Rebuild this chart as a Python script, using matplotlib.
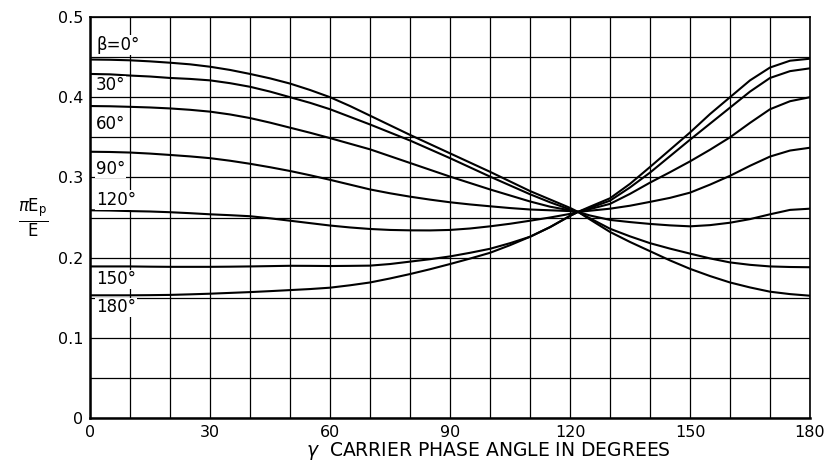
import numpy as np
import matplotlib
matplotlib.use('Agg')
import matplotlib.pyplot as plt

# carrier phase angle gamma (degrees); curves all meet near 122 deg
gamma = list(range(0, 121, 5)) + [122] + list(range(125, 181, 5))

# pi*Ep/E, one list per beta
b0 = [0.447, 0.4467, 0.446, 0.4447, 0.443, 0.441, 0.438, 0.434, 0.429, 0.4235,
      0.417, 0.409, 0.400, 0.389, 0.377, 0.365, 0.353, 0.3415, 0.330, 0.3185,
      0.307, 0.295, 0.283, 0.2725, 0.262,
      0.257,
      0.2635, 0.274, 0.292, 0.313, 0.3345, 0.356, 0.379, 0.400, 0.421, 0.437,
      0.4455, 0.448]
b30 = [0.429, 0.4285, 0.427, 0.4258, 0.424, 0.4228, 0.421, 0.4175, 0.413, 0.407,
       0.400, 0.393, 0.385, 0.3755, 0.366, 0.356, 0.346, 0.335, 0.324, 0.3125,
       0.301, 0.290, 0.279, 0.269, 0.260,
       0.257,
       0.262, 0.271, 0.2875, 0.306, 0.3265, 0.347, 0.367, 0.387, 0.407, 0.424,
       0.4325, 0.436]
b60 = [0.389, 0.3887, 0.388, 0.3872, 0.386, 0.3843, 0.382, 0.3785, 0.374, 0.3683,
       0.362, 0.3557, 0.349, 0.342, 0.335, 0.3265, 0.318, 0.3095, 0.301, 0.293,
       0.285, 0.2775, 0.270, 0.2635, 0.259,
       0.257,
       0.2605, 0.267, 0.2795, 0.2935, 0.3065, 0.320, 0.3345, 0.350, 0.368, 0.385,
       0.395, 0.400]
b90 = [0.332, 0.3317, 0.331, 0.3297, 0.328, 0.3262, 0.324, 0.3208, 0.317, 0.3127,
       0.308, 0.3027, 0.297, 0.291, 0.285, 0.2802, 0.276, 0.2723, 0.269, 0.2663,
       0.264, 0.2618, 0.260, 0.259, 0.258,
       0.257,
       0.2585, 0.261, 0.2647, 0.2695, 0.2745, 0.281, 0.291, 0.302, 0.3145, 0.326,
       0.3335, 0.337]
b120 = [0.259, 0.2587, 0.258, 0.2575, 0.2566, 0.2554, 0.254, 0.2529, 0.2516, 0.249,
        0.246, 0.243, 0.240, 0.2376, 0.2357, 0.2345, 0.234, 0.2339, 0.2345, 0.2363,
        0.239, 0.2422, 0.246, 0.250, 0.2545,
        0.257,
        0.2525, 0.247, 0.2443, 0.242, 0.2402, 0.239, 0.2405, 0.2435, 0.248, 0.254,
        0.2595, 0.261]
b150 = [0.189, 0.189, 0.189, 0.1887, 0.1885, 0.1885, 0.1885, 0.1887, 0.189, 0.1894,
        0.1898, 0.1897, 0.1895, 0.1897, 0.190, 0.192, 0.195, 0.198, 0.2015, 0.206,
        0.211, 0.218, 0.226, 0.238, 0.252,
        0.257,
        0.249, 0.236, 0.2265, 0.218, 0.2112, 0.205, 0.199, 0.194, 0.191, 0.189,
        0.1883, 0.188]
b180 = [0.153, 0.153, 0.153, 0.1532, 0.1535, 0.1542, 0.155, 0.156, 0.157, 0.1582,
        0.1595, 0.1608, 0.1625, 0.1655, 0.169, 0.174, 0.1795, 0.1855, 0.192, 0.1988,
        0.206, 0.2155, 0.226, 0.238, 0.252,
        0.257,
        0.2475, 0.232, 0.2195, 0.208, 0.1965, 0.186, 0.177, 0.169, 0.1628, 0.1575,
        0.1545, 0.1525]

curves = [b0, b30, b60, b90, b120, b150, b180]
labels = ['β=0°', '30°', '60°', '90°', '120°', '150°', '180°']
label_y = [0.465, 0.415, 0.366, 0.311, 0.272, 0.173, 0.138]

fig = plt.figure(figsize=(8.29, 4.62), dpi=100)
ax = fig.add_axes([0.1086, 0.0952, 0.8685, 0.868])

for c in curves:
    ax.plot(gamma, c, color='black', lw=1.5, zorder=3)

for lab, yy in zip(labels, label_y):
    ax.text(1.5, yy, lab, fontsize=12, va='center', ha='left', zorder=4,
            bbox=dict(facecolor='white', edgecolor='none', pad=0.5))

ax.set_xlim(0, 180)
ax.set_ylim(0, 0.5)
ax.set_xticks(np.arange(0, 181, 10), minor=True)
ax.set_yticks(np.arange(0, 0.501, 0.05), minor=True)
ax.set_xticks([0, 30, 60, 90, 120, 150, 180])
ax.set_yticks([0, 0.1, 0.2, 0.3, 0.4, 0.5])
ax.set_yticklabels(['0', '0.1', '0.2', '0.3', '0.4', '0.5'])
ax.grid(True, which='both', color='black', lw=0.9)
ax.tick_params(which='both', length=0, labelsize=11.5, pad=5)
for s in ax.spines.values():
    s.set_linewidth(1.2)
ax.spines['left'].set_linewidth(1.8)
ax.spines['bottom'].set_linewidth(1.8)

ax.set_xlabel(r'$\gamma$  CARRIER PHASE ANGLE IN DEGREES', fontsize=13.5, labelpad=-1)
ax.xaxis.set_label_coords(0.554, -0.055, transform=ax.transAxes)
ax.xaxis.label.set_va('top')
fig.text(0.04, 0.528, r'$\frac{\pi\mathrm{E_p}}{\mathrm{E}}$', fontsize=17,
         ha='center', va='center')

plt.savefig('out.png', dpi=100)
